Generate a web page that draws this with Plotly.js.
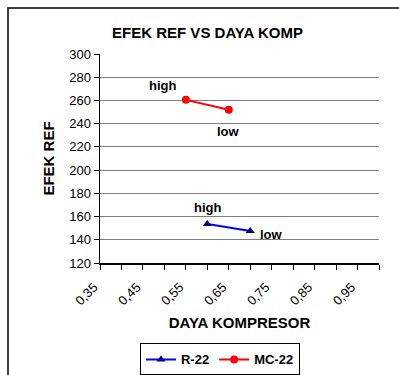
<!DOCTYPE html>
<html><head><meta charset="utf-8">
<script src="https://cdn.plot.ly/plotly-3.0.1.min.js"></script>
<style>html,body{margin:0;padding:0;background:#fff}#c{width:399px;height:375px}</style>
</head><body><div id="c"></div>
<script>
var seriesNames = ["R-22", "MC-22"];
var r22X = [0.60, 0.70];
var r22Y = [153.5, 147.5];
var mc22X = [0.55, 0.65];
var mc22Y = [260.5, 252];
var pointLabels = ["high", "low"];
var xTickVals = [0.35, 0.45, 0.55, 0.65, 0.75, 0.85, 0.95];
var xTickText = ["0,35", "0,45", "0,55", "0,65", "0,75", "0,85", "0,95"];

var F = "Liberation Sans, Arial, sans-serif";
var traces = [
  {x: r22X, y: r22Y, name: seriesNames[0], mode: "lines+markers",
   line: {color: "#0000FF", width: 2}, marker: {symbol: "triangle-up", size: 8, color: "#000080"}},
  {x: mc22X, y: mc22Y, name: seriesNames[1], mode: "lines+markers",
   line: {color: "#FF0000", width: 2}, marker: {symbol: "circle", size: 8, color: "#FF0000"}}
];
var ann = [
  {x: mc22X[0], y: mc22Y[0], text: pointLabels[0], xshift: -23, yshift: 14},
  {x: mc22X[1], y: mc22Y[1], text: pointLabels[1], xshift: 0, yshift: -22},
  {x: r22X[0], y: r22Y[0], text: pointLabels[0], xshift: 0, yshift: 17},
  {x: r22X[1], y: r22Y[1], text: pointLabels[1], xshift: 21, yshift: -3}
].map(function(a){ a.xref="x"; a.yref="y"; a.showarrow=false;
  a.font={family:F, size:13, color:"#000", weight:"bold"}; a.text="<b>"+a.text+"</b>"; return a; });

var layout = {
  width: 399, height: 375,
  margin: {l: 100, r: 20, t: 54, b: 112, autoexpand: false},
  paper_bgcolor: "#fff", plot_bgcolor: "#fff",
  separators: ",.",
  font: {family: F, size: 13, color: "#000"},
  title: {text: "<b>EFEK REF VS DAYA KOMP</b>", x: 0.52, xanchor: "center", y: 0.912, yanchor: "middle",
          font: {family: F, size: 15, color: "#000"}},
  xaxis: {range: [0.35, 1.0], tickvals: xTickVals, ticktext: xTickText, tickangle: -45, automargin: false,
          showgrid: false, zeroline: false, showline: true, linecolor: "#000", linewidth: 1.5,
          ticks: "outside", ticklen: 5, tickcolor: "#000", ticklabelstandoff: 5, ticklabelshift: -6,
          minor: {dtick: 0.05, tick0: 0.35, ticks: "outside", ticklen: 5, tickcolor: "#000", showgrid: false},
          tickfont: {family: F, size: 13},
          title: {text: "<b>DAYA KOMPRESOR</b>", font: {family: F, size: 15}, standoff: 10}},
  yaxis: {range: [120, 300], dtick: 20, showgrid: true, gridcolor: "#7f7f7f", gridwidth: 1, automargin: false,
          zeroline: false, showline: true, linecolor: "#000", linewidth: 1.5,
          ticks: "outside", ticklen: 5, tickcolor: "#000", tickfont: {family: F, size: 13},
          title: {text: "<b>EFEK REF</b>", font: {family: F, size: 15}, standoff: 11}},
  legend: {orientation: "h", x: 0.43, xanchor: "center", y: -0.385, yanchor: "top",
           bordercolor: "#000", borderwidth: 1, font: {family: F, size: 13, weight: "bold"},
           itemwidth: 30, tracegroupgap: 0},
  showlegend: true,
  annotations: ann,
  shapes: [{type: "rect", xref: "paper", yref: "paper", x0: -92/279, x1: 1.2, y0: -0.7, y1: 1 + 46/209,
            line: {color: "#000", width: 1.5}, fillcolor: "rgba(0,0,0,0)"}]
};
Plotly.newPlot("c", traces, layout, {displayModeBar: false, staticPlot: true});
</script></body></html>
